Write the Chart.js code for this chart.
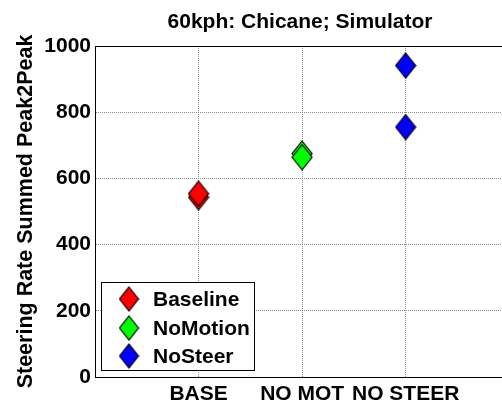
<!DOCTYPE html>
<html>
<head>
<meta charset="utf-8">
<script src="https://cdn.jsdelivr.net/npm/chart.js@4"></script>
<style>
  html, body { margin: 0; padding: 0; background: #fff; overflow: hidden; }
  canvas { display: block; }
</style>
</head>
<body>
<canvas id="chart" width="502" height="405"></canvas>
<script>
const categories = ["BASE", "NO MOT", "NO STEER"];
const categoryPositions = [1, 2, 3];
const seriesNames = ["Baseline", "NoMotion", "NoSteer"];
const seriesColors = ["#ff0000", "#00ff00", "#0000ff"];
const baselineValues = [543, 554];
const noMotionValues = [675, 664];
const noSteerValues = [941, 755];
const yTicks = [0, 200, 400, 600, 800, 1000];
const titleText = "60kph: Chicane; Simulator";
const yAxisTitle = "Steering Rate Summed Peak2Peak";

const FONT = "'Liberation Sans', Arial, sans-serif";

function makeDiamond(color, w, h) {
    const c = document.createElement("canvas");
    c.width = w + 2;
    c.height = h + 2;
    const g = c.getContext("2d");
    const cx = c.width / 2, cy = c.height / 2;
    g.beginPath();
    g.moveTo(cx, cy - h / 2);
    g.lineTo(cx + w / 2, cy);
    g.lineTo(cx, cy + h / 2);
    g.lineTo(cx - w / 2, cy);
    g.closePath();
    g.fillStyle = color;
    g.fill();
    g.lineWidth = 1.2;
    g.strokeStyle = "#000";
    g.stroke();
    return c;
}

const markers = seriesColors.map(c => makeDiamond(c, 20, 25));
const legendMarkers = seriesColors.map(c => makeDiamond(c, 19, 24));

const seriesValues = [baselineValues, noMotionValues, noSteerValues];

const datasets = seriesNames.map((name, i) => ({
    label: name,
    data: seriesValues[i].map(v => ({ x: categoryPositions[i], y: v })),
    pointStyle: markers[i],
    backgroundColor: seriesColors[i],
    borderColor: "#000"
}));

// title and the boxed legend inside the plot, MATLAB style
const decorations = {
    id: "decorations",
    afterDraw(chart) {
        const ctx = chart.ctx;
        ctx.save();
        ctx.fillStyle = "#000";
        ctx.font = "bold 21px " + FONT;
        ctx.textAlign = "center";
        ctx.textBaseline = "middle";
        ctx.fillText(titleText, 300, 22);

        const box = { x: 101.5, y: 282.5, w: 153, h: 88 };
        ctx.fillStyle = "#fff";
        ctx.fillRect(box.x, box.y, box.w, box.h);
        ctx.strokeStyle = "#000";
        ctx.lineWidth = 1;
        ctx.strokeRect(box.x, box.y, box.w, box.h);

        const rows = [299, 328, 356];
        ctx.textAlign = "left";
        ctx.font = "bold 21px " + FONT;
        chart.data.datasets.forEach((ds, i) => {
            const m = legendMarkers[i];
            ctx.drawImage(m, 129 - m.width / 2, rows[i] - m.height / 2);
            ctx.fillStyle = "#000";
            ctx.fillText(ds.label, 153, rows[i] + 1);
        });
        ctx.restore();
    }
};

new Chart(document.getElementById("chart"), {
    type: "scatter",
    data: { datasets },
    options: {
        responsive: false,
        animation: false,
        devicePixelRatio: 1,
        layout: {
            autoPadding: false,
            padding: { top: 46, right: 0, left: 0, bottom: 0 }
        },
        plugins: {
            legend: { display: false },
            title: { display: false },
            tooltip: { enabled: false }
        },
        elements: { point: { radius: 10, hoverRadius: 10 } },
        scales: {
            x: {
                type: "linear",
                min: 0,
                max: 3.93,
                afterBuildTicks: scale => {
                    scale.ticks = categoryPositions.map(v => ({ value: v }));
                },
                afterFit: scale => { scale.height = 28; },
                ticks: {
                    autoSkip: false,
                    maxRotation: 0,
                    padding: 5,
                    color: "#000",
                    font: { family: FONT, size: 21, weight: "bold" },
                    callback: v => {
                        const i = categoryPositions.indexOf(v);
                        return i >= 0 ? categories[i] : "";
                    }
                },
                grid: { color: "#8c8c8c", lineWidth: 1, drawTicks: false },
                border: { display: true, color: "#000", width: 1, dash: [1, 1] }
            },
            y: {
                type: "linear",
                min: 0,
                max: 1000,
                afterBuildTicks: scale => {
                    scale.ticks = yTicks.map(v => ({ value: v }));
                },
                afterFit: scale => { scale.width = 95; },
                ticks: {
                    padding: 4,
                    color: "#000",
                    font: { family: FONT, size: 21, weight: "bold" },
                    callback: v => String(v)
                },
                grid: {
                    color: c => (c.tick && c.tick.value === 1000) ? "#000" : "#8c8c8c",
                    lineWidth: 1,
                    drawTicks: false
                },
                border: {
                    display: true,
                    color: "#000",
                    width: 1,
                    dash: c => (c.tick && c.tick.value === 1000) ? [] : [1, 1]
                },
                title: {
                    display: true,
                    text: yAxisTitle,
                    color: "#000",
                    font: { family: FONT, size: 21.5, weight: "bold" },
                    padding: { top: 13, bottom: 0 }
                }
            }
        }
    },
    plugins: [decorations]
});
</script>
</body>
</html>
